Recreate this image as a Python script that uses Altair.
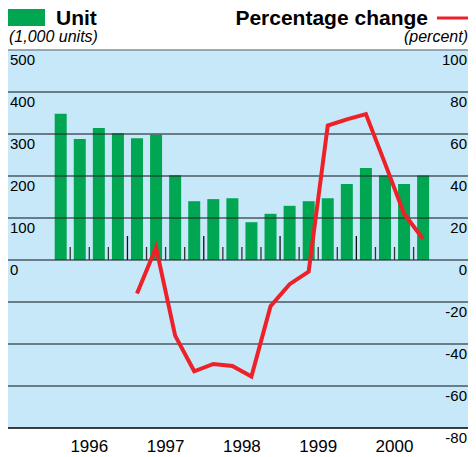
import altair as alt
import pandas as pd

# ---------------- data ----------------
years = [1996, 1997, 1998, 1999, 2000]
quarters = [1, 2, 3, 4]
units = [348, 288, 314, 302, 290, 298, 202, 140, 145, 147,
         90, 110, 129, 140, 147, 181, 219, 201, 181, 201]
# percentage change, 1997 Q1 .. 2000 Q4
pct_change = [-16, 6, -36, -53, -49.5, -50.5, -55.5, -22,
              -11.5, -5.5, 64, 67, 69.5, 46, 22, 10]
left_ticks = [0, 100, 200, 300, 400, 500]
right_ticks = [100, 80, 60, 40, 20, 0, -20, -40, -60, -80]
grid_pct = [80, 60, 40, 20, 0, -20, -40, -60]

GREEN = "#00a651"
RED = "#ee2129"
BG = "#c6e8f8"
FONT = "Liberation Sans"

t_vals = [y + (q - 1) / 4 + 0.125 for y in years for q in quarters]
bars_df = pd.DataFrame({"t": t_vals, "units": units})
line_df = pd.DataFrame({"t": t_vals[4:], "pct": pct_change})
bounds = [years[0] + k / 4 for k in range(1, len(t_vals))]
ticks_df = pd.DataFrame({"b": bounds,
                         "tall": [abs(b - round(b)) < 1e-9 for b in bounds]})
years_df = pd.DataFrame({"year": years, "mid": [y + 0.5 for y in years]})
left_df = pd.DataFrame({"v": left_ticks, "lab": [str(v) for v in left_ticks]})
right_df = pd.DataFrame({"v": right_ticks, "lab": [str(v) for v in right_ticks]})
grid_df = pd.DataFrame({"v": grid_pct})

W, H = 460, 378
PX_PER_YEAR = 78.0
xs = alt.Scale(domain=[1995.5, 1995.5 + W / PX_PER_YEAR], nice=False, zero=False)
us = alt.Scale(domain=[-400, 500], nice=False, zero=False)
ps = alt.Scale(domain=[-80, 100], nice=False, zero=False)

bars = alt.Chart(bars_df).mark_bar(color=GREEN, size=12).encode(
    x=alt.X("t:Q", scale=xs, axis=None),
    y=alt.Y("units:Q", scale=us, axis=None),
    y2=alt.Y2(datum=0),
)

grid = alt.Chart(grid_df).mark_rule(color="#1f2a30", opacity=0.75, strokeWidth=1.5).encode(
    y=alt.Y("v:Q", scale=ps, axis=None)
)
top_line = alt.Chart(pd.DataFrame({"v": [100]})).mark_rule(
    color="#7d8f9a", strokeWidth=1.5).encode(y=alt.Y("v:Q", scale=ps, axis=None))
bottom_line = alt.Chart(pd.DataFrame({"v": [-80]})).mark_rule(
    color="#000000", strokeWidth=1.5).encode(y=alt.Y("v:Q", scale=ps, axis=None))

short_ticks = alt.Chart(ticks_df).transform_filter("!datum.tall").transform_calculate(
    base="0").mark_rule(color="#333333", strokeWidth=1.3).encode(
    x=alt.X("b:Q", scale=xs, axis=None),
    y=alt.Y("base:Q", scale=ps, axis=None),
    y2=alt.value(197),
)
tall_ticks = alt.Chart(ticks_df).transform_filter("datum.tall").transform_calculate(
    base="0").mark_rule(color="#111111", strokeWidth=1.3).encode(
    x=alt.X("b:Q", scale=xs, axis=None),
    y=alt.Y("base:Q", scale=ps, axis=None),
    y2=alt.value(186),
)

line = alt.Chart(line_df).mark_line(color=RED, strokeWidth=4, strokeJoin="miter").encode(
    x=alt.X("t:Q", scale=xs, axis=None),
    y=alt.Y("pct:Q", scale=ps, axis=None),
)

left_labels = alt.Chart(left_df).mark_text(
    align="left", baseline="middle", dy=10, fontSize=15, font=FONT, color="#000").encode(
    x=alt.value(2), y=alt.Y("v:Q", scale=us, axis=None), text="lab:N")
right_labels = alt.Chart(right_df).mark_text(
    align="right", baseline="middle", dy=10, fontSize=15, font=FONT, color="#000").encode(
    x=alt.value(W - 1), y=alt.Y("v:Q", scale=ps, axis=None), text="lab:N")

year_labels = alt.Chart(years_df).mark_text(
    align="center", baseline="alphabetic", fontSize=17, font=FONT, color="#000").encode(
    x=alt.X("mid:Q", scale=xs, axis=None), y=alt.value(402), text="year:N")

# header / legend
green_key = alt.Chart(pd.DataFrame({"k": [0]})).mark_rect(color=GREEN).encode(
    x=alt.value(-1), x2=alt.value(37), y=alt.value(-41), y2=alt.value(-24))
red_key = alt.Chart(pd.DataFrame({"k": [0]})).mark_rule(color=RED, strokeWidth=3).encode(
    x=alt.value(429), x2=alt.value(W), y=alt.value(-32))
unit_title = alt.Chart(pd.DataFrame({"s": ["Unit"]})).mark_text(
    align="left", baseline="alphabetic", fontSize=21, fontWeight="bold", font=FONT,
    color="#000").encode(x=alt.value(48), y=alt.value(-25), text="s:N")
pct_title = alt.Chart(pd.DataFrame({"s": ["Percentage change"]})).mark_text(
    align="right", baseline="alphabetic", fontSize=21, fontWeight="bold", font=FONT,
    color="#000").encode(x=alt.value(420), y=alt.value(-25), text="s:N")
unit_sub = alt.Chart(pd.DataFrame({"s": ["(1,000 units)"]})).mark_text(
    align="left", baseline="alphabetic", fontSize=16, fontStyle="italic", font=FONT,
    color="#000").encode(x=alt.value(1), y=alt.value(-8), text="s:N")
pct_sub = alt.Chart(pd.DataFrame({"s": ["(percent)"]})).mark_text(
    align="right", baseline="alphabetic", fontSize=16, fontStyle="italic", font=FONT,
    color="#000").encode(x=alt.value(W), y=alt.value(-8), text="s:N")

chart = alt.layer(
    bars, grid, top_line, bottom_line, short_ticks, tall_ticks, line,
    left_labels, right_labels, year_labels,
    green_key, red_key, unit_title, pct_title, unit_sub, pct_sub,
).resolve_scale(y="independent").properties(
    width=W, height=H,
    autosize=alt.AutoSizeParams(type="none"),
    padding={"left": 0, "top": 42, "right": 0, "bottom": 28},
).configure_view(fill=BG, stroke=None)

chart.save("out.html", embed_options={"renderer": "svg", "actions": False})
